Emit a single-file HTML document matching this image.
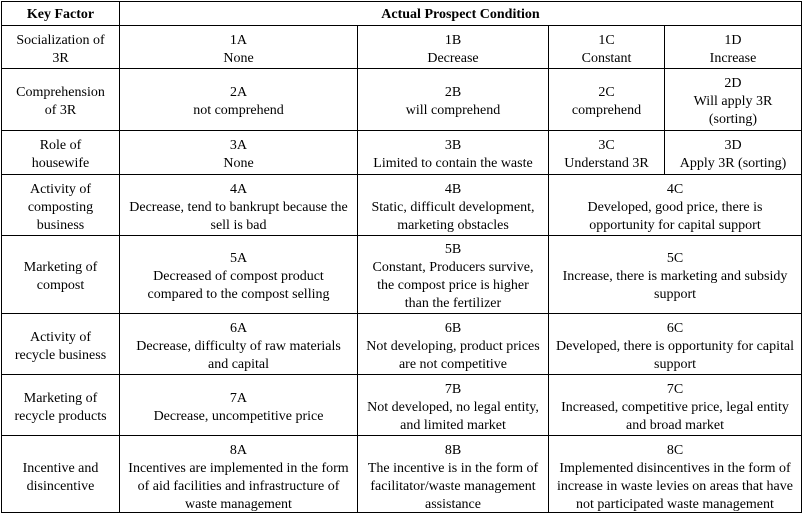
<!DOCTYPE html>
<html>
<head>
<meta charset="utf-8">
<style>
  html, body { margin:0; padding:0; background:#fff; }
  body { width:804px; height:515px; position:relative; overflow:hidden;
         font-family:"Liberation Serif", "Times New Roman", serif; font-size:14px; color:#000; }
  .h { position:absolute; height:1px; background:#000; }
  .v { position:absolute; width:1px; background:#000; }
  .c { position:absolute; display:flex; align-items:center; justify-content:center;
       text-align:center; line-height:18px; white-space:nowrap; box-sizing:border-box; padding-top:5px; }
  .b { font-weight:bold; padding-top:2px; }
</style>
</head>
<body>
<!-- horizontal lines -->
<div class="h" style="left:1px;top:1px;width:801px"></div>
<div class="h" style="left:1px;top:25px;width:801px"></div>
<div class="h" style="left:1px;top:68px;width:801px"></div>
<div class="h" style="left:1px;top:130px;width:801px"></div>
<div class="h" style="left:1px;top:174px;width:801px"></div>
<div class="h" style="left:1px;top:235px;width:801px"></div>
<div class="h" style="left:1px;top:313px;width:801px"></div>
<div class="h" style="left:1px;top:374px;width:801px"></div>
<div class="h" style="left:1px;top:435px;width:801px"></div>
<div class="h" style="left:1px;top:512px;width:801px"></div>
<!-- vertical lines -->
<div class="v" style="left:1px;top:1px;height:512px"></div>
<div class="v" style="left:801px;top:1px;height:512px"></div>
<div class="v" style="left:119px;top:1px;height:512px"></div>
<div class="v" style="left:357px;top:25px;height:488px"></div>
<div class="v" style="left:548px;top:25px;height:488px"></div>
<div class="v" style="left:664px;top:25px;height:150px"></div>

<!-- header -->
<div class="c b" style="left:2px;top:2px;width:117px;height:23px">Key Factor</div>
<div class="c b" style="left:120px;top:2px;width:681px;height:23px">Actual Prospect Condition</div>

<!-- row 1 -->
<div class="c" style="left:2px;top:26px;width:117px;height:42px">Socialization of<br>3R</div>
<div class="c" style="left:120px;top:26px;width:237px;height:42px">1A<br>None</div>
<div class="c" style="left:358px;top:26px;width:190px;height:42px">1B<br>Decrease</div>
<div class="c" style="left:549px;top:26px;width:115px;height:42px">1C<br>Constant</div>
<div class="c" style="left:665px;top:26px;width:136px;height:42px">1D<br>Increase</div>

<!-- row 2 -->
<div class="c" style="left:2px;top:69px;width:117px;height:61px">Comprehension<br>of 3R</div>
<div class="c" style="left:120px;top:69px;width:237px;height:61px">2A<br>not comprehend</div>
<div class="c" style="left:358px;top:69px;width:190px;height:61px">2B<br>will comprehend</div>
<div class="c" style="left:549px;top:69px;width:115px;height:61px">2C<br>comprehend</div>
<div class="c" style="left:665px;top:69px;width:136px;height:61px">2D<br>Will apply 3R<br>(sorting)</div>

<!-- row 3 -->
<div class="c" style="left:2px;top:131px;width:117px;height:43px">Role of<br>housewife</div>
<div class="c" style="left:120px;top:131px;width:237px;height:43px">3A<br>None</div>
<div class="c" style="left:358px;top:131px;width:190px;height:43px">3B<br>Limited to contain the waste</div>
<div class="c" style="left:549px;top:131px;width:115px;height:43px">3C<br>Understand 3R</div>
<div class="c" style="left:665px;top:131px;width:136px;height:43px">3D<br>Apply 3R (sorting)</div>

<!-- row 4 -->
<div class="c" style="left:2px;top:175px;width:117px;height:60px">Activity of<br>composting<br>business</div>
<div class="c" style="left:120px;top:175px;width:237px;height:60px">4A<br>Decrease, tend to bankrupt because the<br>sell is bad</div>
<div class="c" style="left:358px;top:175px;width:190px;height:60px">4B<br>Static, difficult development,<br>marketing obstacles</div>
<div class="c" style="left:549px;top:175px;width:252px;height:60px">4C<br>Developed, good price, there is<br>opportunity for capital support</div>

<!-- row 5 -->
<div class="c" style="left:2px;top:236px;width:117px;height:77px">Marketing of<br>compost</div>
<div class="c" style="left:120px;top:236px;width:237px;height:77px">5A<br>Decreased of compost product<br>compared to the compost selling</div>
<div class="c" style="left:358px;top:236px;width:190px;height:77px">5B<br>Constant, Producers survive,<br>the compost price is higher<br>than the fertilizer</div>
<div class="c" style="left:549px;top:236px;width:252px;height:77px">5C<br>Increase, there is marketing and subsidy<br>support</div>

<!-- row 6 -->
<div class="c" style="left:2px;top:314px;width:117px;height:60px">Activity of<br>recycle business</div>
<div class="c" style="left:120px;top:314px;width:237px;height:60px">6A<br>Decrease, difficulty of raw materials<br>and capital</div>
<div class="c" style="left:358px;top:314px;width:190px;height:60px">6B<br>Not developing, product prices<br>are not competitive</div>
<div class="c" style="left:549px;top:314px;width:252px;height:60px">6C<br>Developed, there is opportunity for capital<br>support</div>

<!-- row 7 -->
<div class="c" style="left:2px;top:375px;width:117px;height:60px">Marketing of<br>recycle products</div>
<div class="c" style="left:120px;top:375px;width:237px;height:60px">7A<br>Decrease, uncompetitive price</div>
<div class="c" style="left:358px;top:375px;width:190px;height:60px">7B<br>Not developed, no legal entity,<br>and limited market</div>
<div class="c" style="left:549px;top:375px;width:252px;height:60px">7C<br>Increased, competitive price, legal entity<br>and broad market</div>

<!-- row 8 -->
<div class="c" style="left:2px;top:437px;width:117px;height:76px">Incentive and<br>disincentive</div>
<div class="c" style="left:120px;top:437px;width:237px;height:76px">8A<br>Incentives are implemented in the form<br>of aid facilities and infrastructure of<br>waste management</div>
<div class="c" style="left:358px;top:437px;width:190px;height:76px">8B<br>The incentive is in the form of<br>facilitator/waste management<br>assistance</div>
<div class="c" style="left:549px;top:437px;width:252px;height:76px">8C<br>Implemented disincentives in the form of<br>increase in waste levies on areas that have<br>not participated waste management</div>
</body>
</html>
